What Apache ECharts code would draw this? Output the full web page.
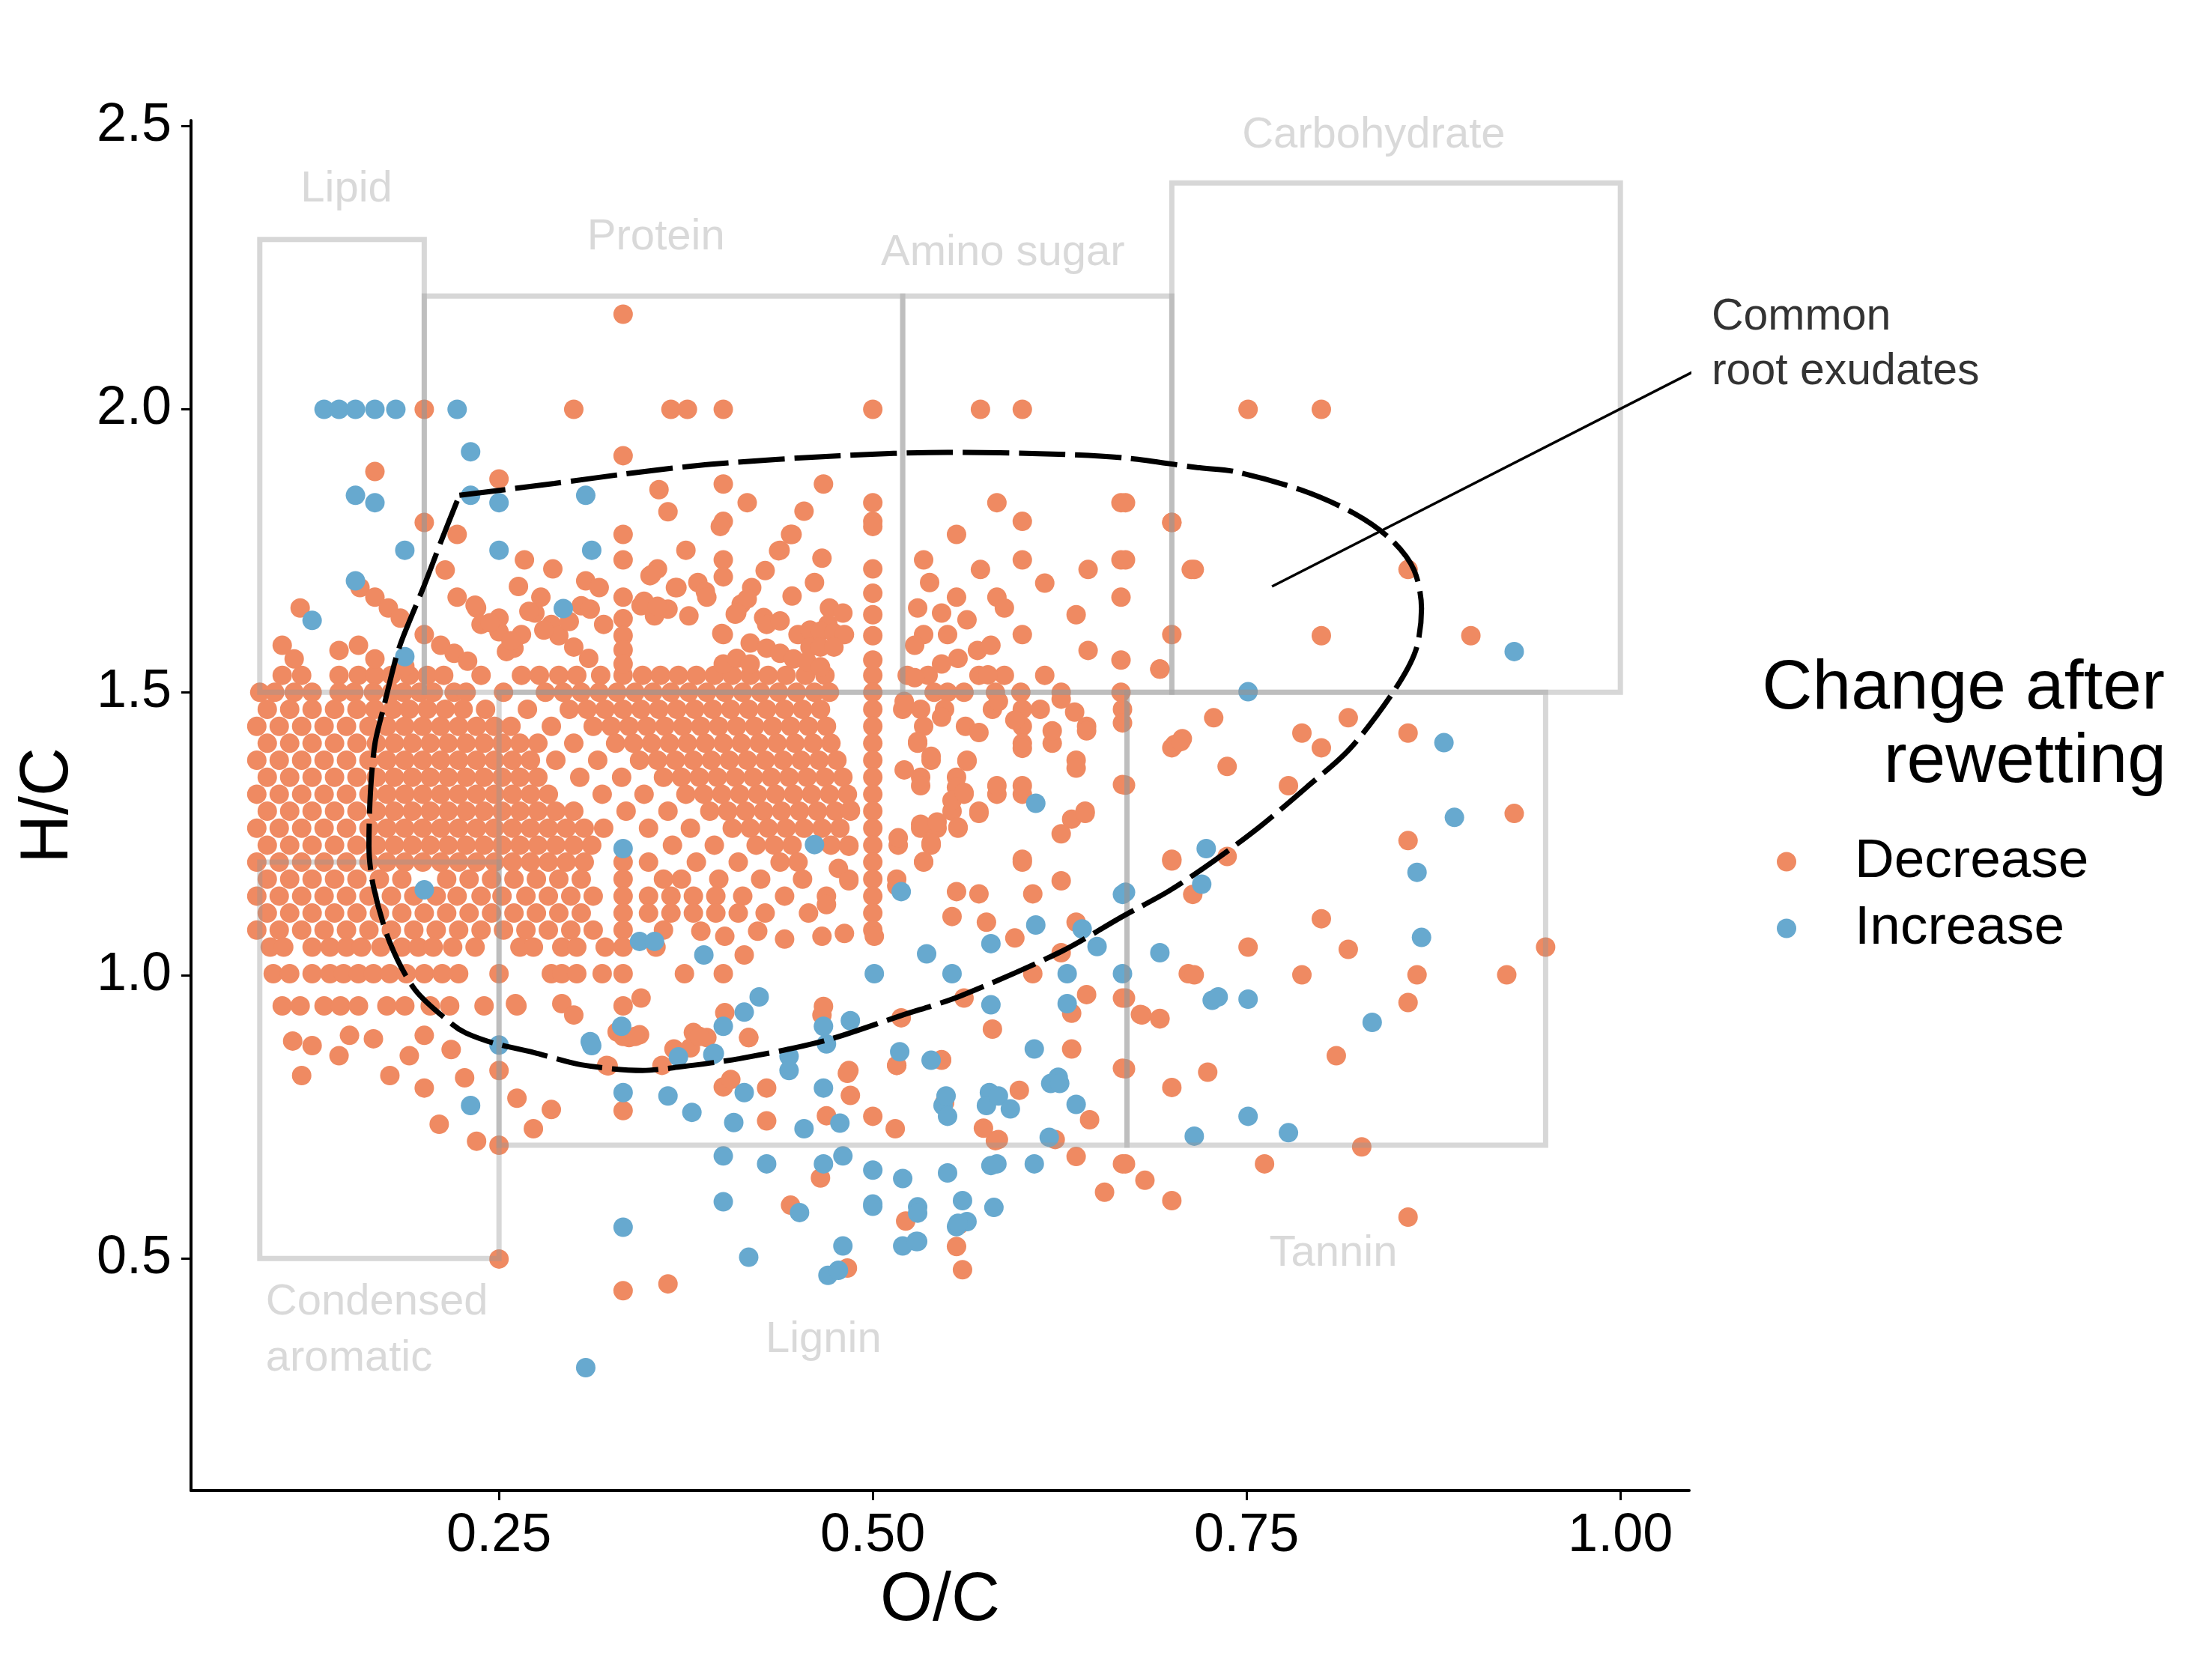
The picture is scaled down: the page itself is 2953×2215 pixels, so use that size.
<!DOCTYPE html>
<html>
<head>
<meta charset="utf-8">
<script src="https://cdn.jsdelivr.net/npm/echarts@6/dist/echarts.min.js"></script>
<style>html,body{margin:0;padding:0;background:#fff}#c{width:2953px;height:2215px}</style>
</head>
<body>
<div id="c"></div>
<script>
// ---- tick labels ----
const xTicks = [0.25, 0.5, 0.75, 1.0];
const yTicks = [0.5, 1.0, 1.5, 2.0, 2.5];

// ---- compound class regions [O/C min, O/C max, H/C min, H/C max] ----
const regionBoxes = [
  [0.09, 0.2, 1.5, 2.3],   // Lipid
  [0.2, 0.52, 1.5, 2.2],   // Protein
  [0.52, 0.7, 1.5, 2.2],   // Amino sugar
  [0.7, 1.0, 1.5, 2.4],    // Carbohydrate
  [0.25, 0.67, 0.7, 1.5],  // Lignin
  [0.67, 0.95, 0.7, 1.5],  // Tannin
  [0.09, 0.25, 0.5, 1.2]   // Condensed aromatic
];
const regionLabels = [
  [0.148, 2.388, 'Lipid'],
  [0.355, 2.303, 'Protein'],
  [0.587, 2.276, 'Amino sugar'],
  [0.835, 2.483, 'Carbohydrate'],
  [0.808, 0.508, 'Tannin'],
  [0.467, 0.356, 'Lignin'],
  [0.094, 0.373, 'Condensed\naromatic']
];

// ---- root exudate envelope (dashed) ----
const exudateCurve = [
  [0.2235,1.848],[0.287,1.869],[0.332,1.885],[0.392,1.903],[0.478,1.918],[0.55,1.924],[0.62,1.921],
  [0.669,1.914],[0.717,1.897],[0.742,1.89],[0.787,1.857],[0.822,1.816],[0.847,1.769],[0.862,1.716],
  [0.867,1.648],[0.863,1.573],[0.848,1.5],[0.819,1.4],[0.79,1.332],[0.759,1.263],[0.728,1.202],
  [0.698,1.149],[0.667,1.104],[0.626,1.042],[0.559,0.964],[0.519,0.929],[0.467,0.884],[0.411,0.853],
  [0.367,0.837],[0.346,0.832],[0.305,0.842],[0.273,0.864],[0.247,0.88],[0.228,0.898],[0.219,0.913],
  [0.194,0.974],[0.177,1.058],[0.166,1.157],[0.163,1.229],[0.164,1.323],[0.167,1.409],[0.173,1.475],
  [0.181,1.56],[0.186,1.599],[0.2,1.689],[0.211,1.765],[0.2235,1.848]
];
const pointerLine = [[0.767, 1.687], [1.058, 2.079]];
const pointerText = [1.061, 2.114, 'Common\nroot exudates'];

// ---- Decrease: dense rows [H/C, [O/C ...]] ----
const decreaseRows = [
  [1.53,[0.105,0.118,0.143,0.156,0.167,0.178,0.19,0.202,0.213,0.238,0.265,0.277,0.29,0.302,0.318,0.333,0.346,0.358,0.37,0.382,0.394,0.406,0.418,0.43,0.442,0.455,0.468,0.5,0.523,0.537,0.571,0.588,0.615]],
  [1.50,[0.09,0.10,0.113,0.125,0.143,0.153,0.166,0.178,0.186,0.197,0.206,0.22,0.228,0.253,0.281,0.293,0.305,0.317,0.329,0.341,0.353,0.365,0.377,0.389,0.401,0.413,0.425,0.437,0.449,0.461,0.471,0.5,0.541,0.55,0.561,0.582,0.599,0.626,0.666]],
  [1.47,[0.095,0.11,0.125,0.14,0.155,0.167,0.179,0.19,0.202,0.214,0.226,0.241,0.269,0.297,0.309,0.321,0.333,0.345,0.357,0.369,0.381,0.393,0.405,0.417,0.429,0.441,0.453,0.465,0.5,0.52,0.548,0.58,0.612]],
  [1.44,[0.088,0.103,0.118,0.133,0.148,0.163,0.175,0.187,0.199,0.211,0.223,0.235,0.247,0.258,0.285,0.313,0.325,0.337,0.349,0.361,0.373,0.385,0.397,0.409,0.421,0.433,0.445,0.457,0.469,0.5,0.534,0.562,0.6,0.643]],
  [1.41,[0.095,0.11,0.125,0.14,0.155,0.168,0.18,0.192,0.204,0.216,0.228,0.24,0.252,0.264,0.276,0.30,0.328,0.34,0.352,0.364,0.376,0.388,0.4,0.412,0.424,0.436,0.448,0.46,0.472,0.5,0.53,0.6,0.62]],
  [1.38,[0.088,0.103,0.118,0.133,0.148,0.163,0.175,0.187,0.199,0.211,0.223,0.235,0.247,0.259,0.271,0.288,0.316,0.344,0.356,0.368,0.38,0.392,0.404,0.416,0.428,0.44,0.452,0.464,0.476,0.5,0.539,0.563,0.636]],
  [1.35,[0.095,0.11,0.125,0.14,0.155,0.168,0.18,0.192,0.204,0.216,0.228,0.24,0.252,0.264,0.276,0.304,0.332,0.36,0.372,0.384,0.396,0.408,0.42,0.432,0.444,0.456,0.468,0.48,0.5,0.532,0.556]],
  [1.32,[0.088,0.103,0.118,0.133,0.148,0.163,0.175,0.187,0.199,0.211,0.223,0.235,0.247,0.259,0.271,0.283,0.319,0.347,0.375,0.387,0.399,0.411,0.423,0.435,0.447,0.459,0.471,0.483,0.5,0.561,0.583,0.6]],
  [1.29,[0.095,0.11,0.125,0.14,0.155,0.168,0.18,0.192,0.204,0.216,0.228,0.24,0.252,0.264,0.276,0.288,0.30,0.335,0.363,0.391,0.403,0.415,0.427,0.439,0.451,0.463,0.475,0.485,0.5,0.553,0.571,0.642]],
  [1.26,[0.088,0.103,0.118,0.133,0.148,0.163,0.175,0.187,0.199,0.211,0.223,0.235,0.247,0.259,0.271,0.283,0.295,0.307,0.32,0.35,0.378,0.406,0.418,0.43,0.442,0.454,0.466,0.478,0.5,0.532,0.543,0.557]],
  [1.23,[0.095,0.11,0.125,0.14,0.155,0.168,0.18,0.192,0.204,0.216,0.228,0.24,0.252,0.264,0.276,0.288,0.30,0.312,0.366,0.394,0.422,0.434,0.446,0.472,0.484,0.5,0.517,0.539]],
  [1.20,[0.088,0.103,0.118,0.133,0.148,0.163,0.175,0.187,0.199,0.211,0.223,0.235,0.247,0.259,0.271,0.283,0.295,0.307,0.333,0.35,0.382,0.41,0.438,0.45,0.5,0.534,0.6]],
  [1.17,[0.095,0.11,0.125,0.14,0.155,0.17,0.185,0.215,0.23,0.245,0.26,0.275,0.29,0.305,0.333,0.36,0.372,0.397,0.425,0.453,0.484,0.5,0.516]],
  [1.14,[0.088,0.103,0.118,0.133,0.148,0.163,0.178,0.193,0.208,0.222,0.238,0.252,0.268,0.283,0.298,0.313,0.333,0.35,0.365,0.38,0.395,0.413,0.441,0.469,0.5]],
  [1.11,[0.095,0.11,0.125,0.14,0.155,0.17,0.185,0.2,0.215,0.23,0.245,0.26,0.275,0.29,0.305,0.333,0.35,0.365,0.38,0.395,0.41,0.428,0.457,0.5]],
  [1.08,[0.088,0.103,0.118,0.133,0.148,0.163,0.178,0.193,0.208,0.223,0.238,0.253,0.268,0.283,0.298,0.313,0.333,0.36,0.5]],
  [1.05,[0.097,0.106,0.125,0.137,0.148,0.158,0.171,0.185,0.196,0.206,0.219,0.234,0.264,0.273,0.292,0.302,0.321,0.333,0.355]],
  [1.003,[0.099,0.11,0.125,0.137,0.146,0.156,0.166,0.177,0.188,0.2,0.212,0.223,0.25,0.285,0.292,0.302,0.319,0.333]],
  [0.946,[0.105,0.117,0.133,0.144,0.156,0.175,0.187,0.204,0.217,0.24,0.262,0.333]]
];

// ---- Decrease: scattered points [O/C, H/C] ----
const decreaseScattered = [
  [0.333,2.168],[0.2,2.0],[0.3,2.0],[0.365,2.0],[0.376,2.0],[0.4,2.0],[0.5,2.0],[0.572,2.0],[0.6,2.0],[0.751,2.0],[0.8,2.0],
  [0.333,1.918],[0.167,1.89],[0.25,1.877],[0.357,1.858],[0.4,1.868],[0.467,1.868],[0.363,1.819],[0.416,1.835],[0.454,1.82],
  [0.5,1.835],[0.5,1.802],[0.4,1.802],[0.2,1.8],[0.222,1.779],[0.333,1.779],[0.445,1.779],[0.438,1.751],[0.375,1.751],
  [0.267,1.734],[0.333,1.734],[0.4,1.734],[0.214,1.716],[0.286,1.718],[0.263,1.687],[0.308,1.697],[0.317,1.685],[0.333,1.668],
  [0.351,1.706],[0.356,1.718],[0.368,1.685],[0.383,1.694],[0.278,1.668],[0.222,1.668],[0.235,1.649],[0.157,1.685],[0.167,1.668],
  [0.176,1.649],[0.184,1.631],[0.117,1.649],[0.305,1.653],[0.274,1.64],[0.285,1.62],[0.345,1.653],[0.354,1.635],[0.363,1.647],
  [0.377,1.635],[0.238,1.62],[0.25,1.631],[0.25,1.607],[0.265,1.602],[0.26,1.578],[0.2,1.602],[0.211,1.583],[0.22,1.569],
  [0.229,1.555],[0.333,1.63],[0.333,1.6],[0.333,1.575],[0.333,1.55],[0.105,1.583],[0.113,1.559],[0.143,1.574],[0.156,1.583],
  [0.167,1.559],[0.187,1.546],[0.29,1.6],[0.3,1.58],[0.31,1.56],[0.32,1.62],[0.297,1.625],[0.255,1.572],[0.27,1.643],
  [0.258,1.591],[0.234,1.654],[0.244,1.623],[0.311,1.647],[0.28,1.61],[0.399,1.604],[0.352,1.708],[0.347,1.661],[0.356,1.652],
  [0.369,1.685],[0.388,1.678],[0.398,1.793],[0.4,1.704],[0.428,1.715],[0.437,1.75],[0.446,1.779],[0.466,1.737],[0.461,1.694],
  [0.446,1.67],[0.427,1.632],[0.419,1.685],[0.412,1.656],[0.408,1.638],[0.389,1.668],[0.416,1.665],[0.409,1.64],[0.471,1.649],
  [0.5,1.793],[0.5,1.718],[0.5,1.675],[0.5,1.637],[0.5,1.6],[0.5,1.557],[0.47,1.62],[0.48,1.64],[0.4,1.602],[0.429,1.62],
  [0.438,1.626],[0.45,1.602],[0.458,1.61],[0.465,1.608],[0.474,1.605],[0.481,1.602],[0.458,1.58],[0.465,1.58],[0.474,1.58],
  [0.418,1.587],[0.429,1.578],[0.438,1.569],[0.447,1.559],[0.456,1.554],[0.465,1.545],[0.4,1.55],[0.409,1.56],[0.418,1.55],
  [0.534,1.734],[0.538,1.694],[0.556,1.779],[0.583,1.835],[0.6,1.802],[0.572,1.717],[0.6,1.734],[0.615,1.693],[0.644,1.717],
  [0.666,1.835],[0.666,1.734],[0.666,1.668],[0.7,1.8],[0.713,1.717],[0.556,1.668],[0.583,1.668],[0.588,1.649],[0.53,1.649],
  [0.546,1.64],[0.563,1.628],[0.636,1.637],[0.534,1.602],[0.55,1.602],[0.6,1.602],[0.7,1.602],[0.528,1.583],[0.57,1.574],
  [0.579,1.583],[0.644,1.574],[0.666,1.557],[0.692,1.541],[0.557,1.56],[0.546,1.55],[0.858,1.717],[0.8,1.6],[0.9,1.6],
  [0.521,1.363],[0.532,1.335],[0.53,1.413],[0.539,1.387],[0.521,1.484],[0.532,1.47],[0.546,1.456],[0.528,1.526],[0.563,1.378],
  [0.556,1.332],[0.553,1.309],[0.561,1.323],[0.571,1.429],[0.571,1.286],[0.577,1.531],[0.584,1.484],[0.6,1.47],[0.595,1.451],
  [0.6,1.401],[0.583,1.335],[0.6,1.335],[0.62,1.432],[0.626,1.488],[0.635,1.465],[0.643,1.432],[0.636,1.366],[0.667,1.47],
  [0.667,1.446],[0.667,1.337],[0.702,1.408],[0.707,1.418],[0.7,1.205],[0.532,1.267],[0.543,1.271],[0.557,1.262],[0.633,1.276],
  [0.642,1.286],[0.626,1.25],[0.517,1.243],[0.539,1.234],[0.534,1.201],[0.6,1.205],[0.626,1.167],[0.485,1.292],[0.484,1.228],
  [0.477,1.189],[0.484,1.167],[0.469,1.125],[0.516,1.158],[0.556,1.148],[0.571,1.144],[0.607,1.144],[0.553,1.104],[0.576,1.094],
  [0.595,1.066],[0.636,1.094],[0.667,0.96],[0.626,1.04],[0.561,0.96],[0.519,0.925],[0.607,1.003],[0.643,0.966],[0.633,0.933],
  [0.68,0.93],[0.692,0.924],[0.711,1.003],[0.58,0.905],[0.633,0.87],[0.546,0.851],[0.516,0.841],[0.667,0.836],[0.484,0.832],
  [0.466,0.93],[0.414,1.036],[0.4,1.003],[0.374,1.003],[0.385,1.078],[0.401,1.069],[0.423,1.078],[0.441,1.064],[0.466,1.069],
  [0.481,1.074],[0.501,1.069],[0.401,0.934],[0.417,0.89],[0.38,0.899],[0.389,0.89],[0.467,0.945],[0.367,0.87],
  [0.345,0.96],[0.292,0.95],[0.3,0.93],[0.329,0.9],[0.337,0.89],[0.344,0.895],[0.323,0.84],[0.261,0.95],
  [0.112,0.884],[0.125,0.876],[0.15,0.894],[0.166,0.888],[0.143,0.858],[0.118,0.823],[0.177,0.823],[0.19,0.858],[0.2,0.894],
  [0.218,0.869],[0.227,0.819],[0.2,0.801],[0.21,0.737],[0.235,0.707],[0.25,0.832],[0.25,0.7],[0.25,0.499],[0.262,0.783],
  [0.285,0.763],[0.273,0.729],[0.322,0.841],[0.333,0.892],[0.341,0.892],[0.333,0.761],[0.359,0.841],[0.378,0.872],[0.384,0.892],
  [0.417,0.89],[0.4,0.803],[0.405,0.816],[0.429,0.801],[0.429,0.743],[0.469,0.752],[0.465,0.642],[0.483,0.827],[0.485,0.788],
  [0.5,0.751],[0.515,0.729],[0.516,0.841],[0.546,0.85],[0.548,0.775],[0.445,0.594],[0.522,0.566],[0.556,0.521],[0.56,0.48],
  [0.483,0.483],[0.333,0.443],[0.363,0.455],[0.582,0.708],[0.558,0.56],[0.574,0.73],[0.598,0.797],[0.622,0.71],[0.636,0.68],
  [0.655,0.617],[0.667,0.667],[0.584,0.71],[0.645,0.745],
  [0.692,1.541],[0.728,1.455],[0.7,1.402],[0.706,1.413],[0.737,1.369],[0.787,1.428],[0.8,1.402],[0.818,1.455],[0.858,1.428],
  [0.778,1.335],[0.929,1.286],[0.858,1.238],[0.7,1.202],[0.737,1.21],[0.714,1.143],[0.8,1.1],[0.751,1.05],[0.818,1.046],
  [0.95,1.05],[0.715,1.001],[0.787,1.001],[0.864,1.001],[0.924,1.001],[0.858,0.952],[0.679,0.931],[0.692,0.923],[0.669,0.96],
  [0.81,0.858],[0.724,0.829],[0.7,0.802],[0.669,0.835],[0.827,0.697],[0.762,0.667],[0.669,0.667],[0.682,0.638],[0.7,0.602],
  [0.858,0.573],[0.669,1.336],[0.669,1.835],[0.669,1.734],[0.715,1.717],[0.7,1.8]
];

// ---- Increase [O/C, H/C] ----
const increasePoints = [
  [0.133,2.0],[0.143,2.0],[0.154,2.0],[0.167,2.0],[0.181,2.0],[0.222,2.0],[0.231,1.925],[0.154,1.848],[0.167,1.835],
  [0.231,1.848],[0.25,1.835],[0.308,1.848],[0.187,1.751],[0.25,1.751],[0.312,1.751],[0.154,1.697],[0.293,1.648],[0.125,1.627],
  [0.187,1.563],[0.333,1.224],[0.2,1.151],[0.344,1.06],[0.354,1.06],[0.332,0.91],[0.311,0.883],[0.25,0.877],[0.37,0.856],
  [0.461,1.231],[0.519,1.148],[0.609,1.304],[0.387,1.036],[0.501,1.003],[0.536,1.038],[0.553,1.003],[0.579,1.056],[0.609,1.089],
  [0.64,1.082],[0.65,1.051],[0.667,1.143],[0.63,1.003],[0.667,1.003],[0.692,1.04],[0.579,0.948],[0.63,0.95],[0.424,0.962],
  [0.414,0.935],[0.4,0.91],[0.467,0.91],[0.485,0.92],[0.444,0.857],[0.444,0.832],[0.469,0.879],[0.394,0.862],[0.518,0.865],
  [0.539,0.85],[0.608,0.87],[0.624,0.82],[0.312,0.876],[0.231,0.77],[0.333,0.793],[0.363,0.787],[0.379,0.758],[0.393,0.86],
  [0.414,0.793],[0.407,0.74],[0.454,0.729],[0.478,0.739],[0.467,0.801],[0.547,0.77],[0.55,0.751],[0.578,0.793],[0.576,0.77],
  [0.4,0.681],[0.429,0.667],[0.467,0.667],[0.48,0.681],[0.5,0.656],[0.52,0.641],[0.55,0.651],[0.579,0.664],[0.4,0.6],
  [0.451,0.581],[0.5,0.596],[0.53,0.591],[0.56,0.602],[0.581,0.59],[0.333,0.555],[0.48,0.522],[0.52,0.522],[0.53,0.53],
  [0.556,0.556],[0.563,0.565],[0.417,0.502],[0.47,0.47],[0.477,0.479],[0.308,0.307],[0.5,0.592],[0.53,0.58],[0.529,0.53],
  [0.557,0.562],[0.583,0.667],[0.608,0.667],[0.618,0.714],[0.619,0.809],[0.625,0.809],[0.636,0.772],[0.584,0.787],[0.592,0.764],
  [0.549,0.787],[0.751,1.501],[0.882,1.411],[0.889,1.279],[0.723,1.224],[0.72,1.161],[0.864,1.182],[0.867,1.067],[0.669,1.147],
  [0.727,0.956],[0.731,0.962],[0.751,0.958],[0.834,0.917],[0.715,0.716],[0.751,0.751],[0.778,0.722],[0.929,1.572]
];

const seriesNames = ['Decrease', 'Increase'];
const seriesColors = ['#EF8A62', '#67A9CF'];
const legendTitle = ['Change after', 'rewetting'];

const decreaseData = [];
decreaseRows.forEach(function (row) { row[1].forEach(function (x) { decreaseData.push([x, row[0]]); }); });
decreaseScattered.forEach(function (p) { decreaseData.push(p); });

const FONT = '"Liberation Sans", Arial, sans-serif';
const chart = echarts.init(document.getElementById('c'), null, {renderer: 'canvas', width: 2953, height: 2215});

const labelData = regionLabels.map(function (r) {
  const item = {value: [r[0], r[1]], name: r[2]};
  if (r[2].indexOf('\n') >= 0) item.label = {align: 'left', lineHeight: 75};
  return item;
});
labelData.push({value: [pointerText[0], pointerText[1]], name: pointerText[2],
  label: {align: 'left', color: '#000', fontSize: 59, lineHeight: 73}});

chart.setOption({
  animation: false,
  backgroundColor: '#ffffff',
  grid: {left: 255, right: 698, top: 161, bottom: 225, containLabel: false},
  xAxis: {
    type: 'value', min: 0.044, max: 1.046,
    name: 'O/C', nameLocation: 'middle', nameGap: 103,
    nameTextStyle: {fontSize: 90, color: '#000', fontFamily: FONT},
    axisLine: {show: true, lineStyle: {color: '#000', width: 4}},
    axisTick: {show: true, length: 13, lineStyle: {color: '#000', width: 3}, customValues: xTicks},
    axisLabel: {show: true, fontSize: 72, color: '#000', fontFamily: FONT, margin: 25,
      customValues: xTicks, formatter: function (v) { return v.toFixed(2); }},
    splitLine: {show: false}
  },
  yAxis: {
    type: 'value', min: 0.09, max: 2.51,
    name: 'H/C', nameLocation: 'middle', nameGap: 145,
    nameTextStyle: {fontSize: 90, color: '#000', fontFamily: FONT},
    axisLine: {show: true, lineStyle: {color: '#000', width: 4}},
    axisTick: {show: true, length: 13, lineStyle: {color: '#000', width: 3}, customValues: yTicks},
    axisLabel: {show: true, fontSize: 72, color: '#000', fontFamily: FONT, margin: 26,
      customValues: yTicks, formatter: function (v) { return v.toFixed(1); }},
    splitLine: {show: false}
  },
  legend: {
    show: true, orient: 'vertical', left: 2372, top: 1114, padding: 0,
    itemWidth: 26, itemHeight: 26, itemGap: 16, icon: 'circle',
    formatter: function (name) { return '{t|' + name + '}'; },
    textStyle: {fontSize: 73, color: '#000', fontFamily: FONT, lineHeight: 72,
      rich: {t: {fontSize: 73, color: '#000', fontFamily: FONT, lineHeight: 72, padding: [0, 0, 0, 73]}}},
    data: seriesNames
  },
  graphic: [
    {type: 'text', x: 2890, y: 920, z: 100,
      style: {text: legendTitle[0], fontSize: 93, fontFamily: FONT, fill: '#000', align: 'right', verticalAlign: 'middle'}},
    {type: 'text', x: 2892, y: 1018, z: 100,
      style: {text: legendTitle[1], fontSize: 93, fontFamily: FONT, fill: '#000', align: 'right', verticalAlign: 'middle'}}
  ],
  series: [
    {
      name: seriesNames[0], type: 'scatter', data: decreaseData, symbol: 'circle', symbolSize: 26,
      itemStyle: {color: seriesColors[0], opacity: 1}, z: 2, silent: true
    },
    {
      name: seriesNames[1], type: 'scatter', data: increasePoints, symbol: 'circle', symbolSize: 26,
      itemStyle: {color: seriesColors[1], opacity: 1}, z: 2, silent: true
    },
    {
      name: 'regions', type: 'custom', z: 3, silent: true,
      data: regionBoxes,
      encode: {x: [0, 1], y: [2, 3]},
      renderItem: function (params, api) {
        const p0 = api.coord([api.value(0), api.value(2)]);
        const p1 = api.coord([api.value(1), api.value(3)]);
        return {type: 'rect', shape: {x: p0[0], y: p1[1], width: p1[0] - p0[0], height: p0[1] - p1[1]},
          style: {fill: 'none', stroke: 'rgba(150,150,150,0.38)', lineWidth: 7}};
      }
    },
    {
      name: 'envelope', type: 'line', data: exudateCurve, smooth: 0.3, symbol: 'none', z: 5, silent: true, clip: false,
      lineStyle: {color: '#000', width: 7, type: [62, 13]}
    },
    {
      name: 'pointer', type: 'line', data: pointerLine, symbol: 'none', z: 5, silent: true, clip: false,
      lineStyle: {color: '#000', width: 3.5}
    },
    {
      name: 'labels', type: 'scatter', data: labelData, symbolSize: 1, clip: false, silent: true, z: 6,
      itemStyle: {color: 'rgba(0,0,0,0)'},
      label: {show: true, position: 'inside', formatter: '{b}', fontSize: 58, color: '#cfcfcf', fontFamily: FONT}
    }
  ]
});
</script>
</body>
</html>
